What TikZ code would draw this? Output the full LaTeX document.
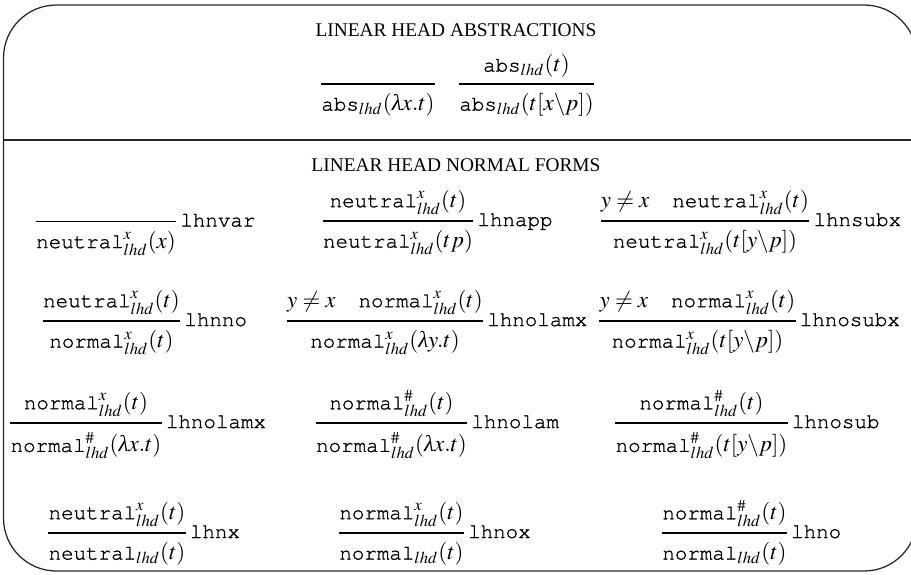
\documentclass[tikz,border=0pt]{standalone}
\usepackage{mathptmx}
\usepackage[no-math]{fontspec}
\setmainfont{Liberation Serif}
\newfontfamily\cour[FakeBold=1.2]{texgyrecursor-regular.otf}
\DeclareMathSizes{11}{11}{8}{6}
\usetikzlibrary{calc}
\tikzset{
  prem/.style={anchor=south, inner sep=0pt, yshift=3pt, font=\fontsize{11}{13}\selectfont},
  conc/.style={anchor=north, inner sep=0pt, yshift=-4.3pt, font=\fontsize{11}{13}\selectfont},
  rulebar/.style={line width=0.5pt},
  lbl/.style={anchor=base west, inner sep=0pt, font=\fontsize{10}{12}\selectfont\cour},
  frameline/.style={line width=0.6pt, draw=black!85},
  head/.style={anchor=base, inner sep=0pt, font=\fontsize{9.3}{11}\selectfont}
}
\newcommand\infrule[6]{%
  \coordinate (#1m) at (#2,#3);
  \if\relax\detokenize{#4}\relax
    \coordinate (#1p) at (#1m);
  \else
    \node[prem] (#1p) at (#1m) {$#4$};
  \fi
  \node[conc] (#1c) at (#1m) {$#5$};
  \draw[rulebar] let \p1=(#1p.west), \p2=(#1c.west), \p3=(#1p.east), \p4=(#1c.east), \p5=(#1m) in
     ({min(\x1,\x2)},\y5) coordinate (#1s) -- ({max(\x3,\x4)},\y5) coordinate (#1e);
  \if\relax\detokenize{#6}\relax\else
  \node[lbl] (#1l) at ([xshift=1.8pt,yshift=-2.4pt]#1e) {#6};
  \fi
}
\newcommand\tw[1]{\mbox{\fontsize{10}{12}\selectfont\cour #1}}
\newcommand\nt{\tw{neutral}}
\newcommand\nm{\tw{normal}}
\newcommand\ab{\tw{abs}}
\newcommand\lam{\mbox{\itshape λ}}
\newcommand\sep{\hspace{11pt}}
\begin{document}
\begin{tikzpicture}[x=0.48pt,y=-0.48pt]
\useasboundingbox (0,0) rectangle (911,574);
% frame
\coordinate (fTL) at (3.5,5);
\coordinate (fBR) at (917,571);
\draw[frameline, rounded corners=25.4pt] (fTL) rectangle (fBR);
\coordinate (sL) at (3.5,140);
\coordinate (sR) at (917,140);
\draw[frameline] (sL) -- (sR);
% headings
\node[head] (h1) at (456,36) {LINEAR HEAD ABSTRACTIONS};
\node[head] (h2) at (456,171) {LINEAR HEAD NORMAL FORMS};
% abstractions
\infrule{A}{378}{84}{}{\ab_{lhd}(\lam x.t)}{}
\infrule{B}{526.5}{84}{\ab_{lhd}(t)}{\ab_{lhd}(t[x\backslash p])}{}
% row 1
\infrule{Ra}{106}{221.5}{}{\nt^x_{lhd}(x)}{lhnvar}
\infrule{Rb}{398}{221}{\nt^x_{lhd}(t)}{\nt^x_{lhd}(tp)}{lhnapp}
\infrule{Rc}{705}{221}{y\neq x\sep\nt^x_{lhd}(t)}{\nt^x_{lhd}(t[y\backslash p])}{lhnsubx}
% row 2
\infrule{Sa}{111.5}{321}{\nt^x_{lhd}(t)}{\nm^x_{lhd}(t)}{lhnno}
\infrule{Sb}{385}{321}{y\neq x\sep\nm^x_{lhd}(t)}{\nm^x_{lhd}(\lam y.t)}{lhnolamx}
\infrule{Sc}{697.5}{321}{y\neq x\sep\nm^x_{lhd}(t)}{\nm^x_{lhd}(t[y\backslash p])}{lhnosubx}
% row 3
\infrule{Ta}{86}{423}{\nm^x_{lhd}(t)}{\nm^\#_{lhd}(\lam x.t)}{lhnolamx}
\infrule{Tb}{391.5}{423}{\nm^\#_{lhd}(t)}{\nm^\#_{lhd}(\lam x.t)}{lhnolam}
\infrule{Tc}{701.5}{423}{\nm^\#_{lhd}(t)}{\nm^\#_{lhd}(t[y\backslash p])}{lhnosub}
% row 4
\infrule{Ua}{117}{533}{\nt^x_{lhd}(t)}{\nt_{lhd}(t)}{lhnx}
\infrule{Ub}{401.5}{533}{\nm^x_{lhd}(t)}{\nm_{lhd}(t)}{lhnox}
\infrule{Uc}{724.5}{533}{\nm^\#_{lhd}(t)}{\nm_{lhd}(t)}{lhno}
\end{tikzpicture}
\end{document}
